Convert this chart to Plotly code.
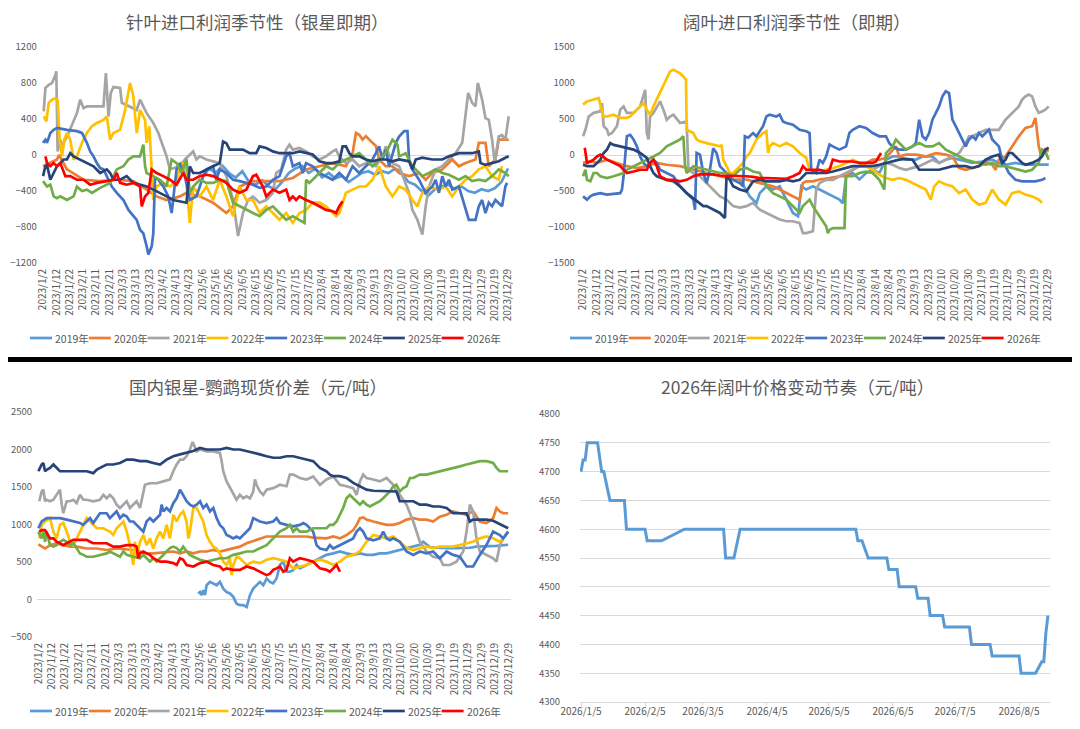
import plotly.graph_objects as go

# The page body has an 8px margin, so the figure is drawn 8px in from the window corner.
OFF = 8
W, H = 1080 - 2 * OFF, 729 - 2 * OFF
FONT = "Noto Sans CJK SC, Noto Sans, sans-serif"
TXT = "#595959"

YEARS = ["2019年", "2020年", "2021年", "2022年", "2023年", "2024年", "2025年", "2026年"]
COLORS = ["#5B9BD5", "#ED7D31", "#A5A5A5", "#FFC000", "#4472C4", "#70AD47", "#264478", "#FF0000"]

X_TICK_LABELS = ["2023/1/2", "2023/1/12", "2023/1/22", "2023/2/1", "2023/2/11", "2023/2/21",
                 "2023/3/3", "2023/3/13", "2023/3/23", "2023/4/2", "2023/4/13", "2023/4/23",
                 "2023/5/6", "2023/5/16", "2023/5/26", "2023/6/5", "2023/6/15", "2023/6/25",
                 "2023/7/5", "2023/7/15", "2023/7/25", "2023/8/4", "2023/8/14", "2023/8/24",
                 "2023/9/3", "2023/9/13", "2023/9/23", "2023/10/10", "2023/10/20", "2023/10/30",
                 "2023/11/9", "2023/11/19", "2023/11/29", "2023/12/9", "2023/12/19", "2023/12/29"]

# ---------------- Panel 1: 针叶进口利润季节性（银星即期）  (x = position in tick-label units)
P1_2019 = [(12.0,-250),(12.5,-150),(13.0,-200),(13.5,-120),(14.0,-200),(14.5,-250),(15.0,-180),(15.5,-300),
           (16.0,-330),(16.5,-280),(17.0,-350),(17.5,-380),(18.0,-300),(18.5,-200),(19.0,-150),(19.5,-120),
           (20.0,-200),(20.5,-150),(21.0,-250),(21.5,-200),(22.0,-260),(22.5,-230),(23.0,-300),(23.5,-250),
           (24.0,-200),(24.5,-180),(25.0,-220),(25.5,-180),(26.0,-200),(26.5,-150),(27.0,-200),(27.5,-300),
           (28.0,-330),(28.5,-400),(29.0,-450),(29.5,-380),(30.0,-350),(30.5,-330),(31.0,-380),(31.5,-350),
           (32.0,-400),(32.5,-420),(33.0,-380),(33.5,-400),(34.0,-370),(34.5,-300),(35.0,-150)]
P1_2020 = [(0,-125),(1.05,-50),(1.2,0),(1.8,-160),(3.05,-275),(4.3,-290),(5.55,-275),(6.8,-290),(7.8,-385),
           (8.55,-460),(9.3,-500),(10.3,-460),(10.8,-420),(11.8,-460),(12.8,-530),(13.8,-645),(14.3,-570),
           (14.8,-350),(15.8,-290),(16.8,-290),(17.8,-290),(18.8,-255),(19.8,-160),(20.8,-125),(21.8,-90),
           (22.8,-125),(23.3,20),(23.55,245),(23.8,225),(24.05,170),(24.3,210),(24.8,135),(25.05,100),
           (25.3,-50),(25.8,-125),(26.3,-125),(26.8,-200),(27.55,-235),(28.3,-200),(28.8,-275),(29.3,-200),
           (30.05,-160),(30.8,-50),(31.3,-125),(31.8,-90),(32.55,-50),(32.8,135),(33.3,135),(33.55,-125),
           (34.05,-50),(34.3,170),(35.05,170)]
P1_2021 = [(0.05,485),(0.18,745),(0.43,780),(0.68,800),(0.93,890),(1.0,930),(1.1,40),(1.3,170),(1.4,100),
           (1.8,200),(2.55,465),(2.8,615),(3.05,520),(3.3,540),(4.55,540),(4.73,910),(4.93,430),(5.1,690),
           (5.3,755),(5.8,745),(5.93,580),(6.55,540),(7.05,500),(7.3,615),(7.8,465),(8.3,355),(8.68,245),
           (9.3,-15),(9.55,-160),(10.3,-125),(10.68,-50),(11.3,40),(11.55,-50),(11.8,-15),(12.3,-50),
           (13.3,-90),(13.8,-235),(14.3,-500),(14.68,-900),(15.05,-645),(15.43,-500),(15.8,-460),(16.3,-530),
           (16.8,-500),(17.3,-420),(17.55,-200),(17.93,-160),(18.3,60),(18.55,115),(18.8,60),(19.3,78),
           (19.8,40),(20.3,-15),(20.8,-50),(21.3,-15),(21.8,40),(22.05,60),(22.3,-15),(22.8,-90),(23.3,-50),
           (23.8,-125),(24.3,-90),(25.05,-125),(25.55,-15),(25.8,96),(26.3,-90),(26.8,-125),(27.55,-420),
           (27.8,-610),(28.18,-720),(28.55,-885),(28.8,-570),(29.05,-350),(29.55,-160),(30.05,-125),
           (30.55,-50),(31.05,20),(31.55,135),(31.8,430),(32.0,690),(32.3,580),(32.55,540),(32.73,800),
           (33.05,615),(33.3,410),(33.55,390),(33.8,170),(34.0,-90),(34.3,205),(34.55,220),(34.8,170),(35.05,430)]
P1_2022 = [(0.05,430),(0.25,375),(0.43,580),(0.68,615),(0.93,630),(1.1,610),(1.25,170),(1.43,-15),(1.6,170),
           (1.8,245),(2.05,170),(2.3,-50),(2.55,-15),(2.93,135),(3.3,245),(3.68,320),(4.05,355),(4.55,390),
           (4.8,430),(5.05,170),(5.3,245),(5.8,280),(6.18,500),(6.55,800),(6.8,650),(7.05,245),(7.3,500),
           (7.68,390),(7.8,135),(8.0,320),(8.3,-500),(8.55,-350),(9.05,-310),(9.55,-350),(10.05,-290),
           (10.43,-90),(10.68,-125),(11.05,-755),(11.3,-350),(11.8,-460),(12.3,-350),(12.8,-500),(13.3,-275),
           (13.8,-460),(14.3,-680),(14.8,-350),(15.3,-500),(15.8,-500),(16.3,-645),(16.8,-570),(17.3,-645),
           (17.8,-720),(18.3,-645),(18.8,-755),(19.3,-645),(19.8,-610),(20.3,-530),(20.8,-530),(21.3,-570),
           (21.8,-645),(22.05,-680),(22.3,-645),(22.8,-420),(23.3,-385),(23.8,-350),(24.3,-350),(24.8,-275),
           (25.3,-125),(25.8,-350),(26.3,-460),(26.8,-350),(27.3,-385),(27.8,-500),(28.18,-570),(28.55,-420),
           (29.05,-350),(29.8,-385),(30.3,-350),(30.8,-460),(31.3,-350),(31.8,-275),(32.3,-235),(32.8,-160),
           (33.3,-125),(33.8,-235),(34.3,-275),(34.55,-125)]
P1_2023 = [(0,135),(0.18,170),(0.3,135),(0.55,245),(0.8,280),(1.05,300),(1.8,280),(2.55,265),(2.93,245),
           (3.3,135),(3.55,40),(3.8,-15),(4.05,-90),(4.3,-145),(4.55,-160),(4.8,-235),(5.18,-350),(5.55,-420),
           (6.05,-500),(6.43,-610),(6.8,-680),(7.05,-720),(7.3,-830),(7.55,-870),(7.8,-1015),(7.93,-1105),
           (8.18,-1015),(8.3,-870),(8.43,-250),(8.68,-275),(9.05,-350),(9.43,-460),(9.68,-645),(9.8,-500),
           (10.05,-160),(10.3,-90),(10.68,-235),(11.05,-500),(11.55,-460),(11.8,-350),(12.05,-235),(12.3,-160),
           (12.8,-125),(13.05,-275),(13.3,-160),(13.8,-200),(14.3,-275),(14.8,-290),(15.3,-310),(15.8,-330),
           (16.3,-365),(16.8,-350),(17.3,-275),(17.8,-235),(18.05,-125),(18.3,-15),(18.55,20),(18.8,-125),
           (19.3,-90),(19.55,-200),(19.8,-90),(20.3,-125),(20.8,-200),(21.3,-235),(21.8,-275),(22.3,-200),
           (22.8,-275),(23.3,-125),(23.8,-200),(24.3,-125),(24.8,-50),(25.05,20),(25.3,96),(25.55,-50),
           (25.8,60),(26.05,-125),(26.3,20),(26.55,135),(26.8,205),(27.18,265),(27.43,265),(27.55,-50),
           (27.8,-160),(28.3,-275),(28.8,-420),(29.3,-350),(29.55,-275),(29.8,-420),(30.05,-235),(30.3,-350),
           (30.55,-275),(30.8,-385),(31.3,-350),(31.8,-610),(32.05,-720),(32.55,-720),(32.8,-570),(33.05,-500),
           (33.3,-645),(33.55,-530),(33.8,-570),(34.05,-500),(34.3,-530),(34.55,-570),(34.8,-350),(34.93,-310)]
P1_2024 = [(0,-290),(0.3,-350),(0.55,-330),(0.8,-460),(1.05,-480),(1.3,-460),(1.8,-500),(2.3,-460),(2.55,-350),
           (2.93,-400),(3.3,-385),(3.68,-420),(4.3,-365),(5.05,-310),(5.55,-160),(6.05,-125),(6.43,-50),
           (6.8,-15),(7.3,-15),(7.55,115),(7.68,-125),(7.8,-200),(8.3,-235),(8.8,-275),(9.3,-350),(9.68,-50),
           (10.05,-90),(10.43,-200),(10.8,-50),(11.05,-420),(11.3,-350),(11.8,-275),(12.3,-310),(12.8,-310),
           (13.3,-275),(13.8,-290),(14.3,-530),(14.8,-570),(15.3,-610),(15.8,-645),(16.3,-680),(16.8,-610),
           (17.3,-570),(17.8,-645),(18.3,-720),(18.8,-680),(19.3,-720),(19.68,-755),(19.8,-275),(20.05,-310),
           (20.8,-200),(21.3,-125),(21.8,-160),(22.3,-90),(22.8,-50),(23.3,-15),(23.8,20),(24.3,-50),
           (24.8,-125),(25.3,-50),(25.8,20),(26.3,170),(26.68,115),(26.8,-15),(27.3,20),(27.55,-50),
           (27.8,-125),(28.05,-160),(28.55,-235),(29.05,-200),(29.55,-160),(30.05,-200),(30.55,-220),
           (31.3,-275),(31.8,-235),(32.3,-290),(32.8,-275),(33.3,-290),(33.8,-235),(34.3,-160),(34.8,-200),
           (35.05,-235)]
P1_2025 = [(0,-235),(0.18,-125),(0.3,-110),(0.55,-275),(0.8,-200),(1.05,-125),(1.3,-90),(1.55,-50),(1.8,-50),
           (2.05,20),(2.3,-15),(2.8,-50),(3.3,-90),(3.8,-125),(4.3,-200),(4.8,-160),(5.05,-200),(5.3,-275),
           (5.8,-275),(6.3,-235),(6.8,-310),(7.3,-330),(7.8,-350),(8.3,-385),(8.8,-420),(9.3,-460),(9.8,-500),
           (10.3,-515),(10.8,-530),(11.05,-125),(11.3,-200),(11.8,-200),(12.3,-160),(12.8,-125),(13.3,-90),
           (13.55,150),(13.8,130),(14.05,60),(14.55,60),(15.05,60),(15.55,20),(16.05,20),(16.3,96),(16.8,78),
           (17.3,40),(17.8,20),(18.3,20),(18.8,20),(19.3,40),(19.8,20),(20.3,5),(20.8,-70),(21.3,-90),
           (21.8,-90),(22.3,-70),(22.55,96),(22.8,96),(23.05,20),(23.3,-15),(23.8,-15),(24.3,-50),(24.8,-70),
           (25.3,-50),(25.8,-50),(26.3,-70),(26.8,-50),(27.55,-70),(27.8,-160),(28.05,-50),(28.55,-30),
           (29.3,-50),(30.05,-50),(30.55,-15),(31.3,20),(31.8,20),(32.3,20),(32.8,40),(32.93,-90),(33.3,-110),
           (33.8,-90),(34.3,-70),(34.8,-30),(35.05,-15)]
P1_2026 = [(0.18,-15),(0.3,-90),(0.55,-125),(0.8,-90),(1.05,-125),(1.3,-90),(1.68,-235),(2.05,-235),(2.55,-275),
           (3.05,-275),(3.55,-330),(4.05,-310),(4.8,-290),(5.3,-275),(5.55,-200),(5.8,-310),(6.3,-330),
           (6.8,-310),(7.3,-350),(7.43,-570),(7.68,-460),(7.93,-420),(8.18,-160),(8.55,-200),(9.05,-235),
           (9.55,-275),(10.05,-330),(10.55,-200),(10.8,-275),(11.3,-275),(11.8,-235),(12.3,-220),(12.8,-235),
           (13.3,-275),(13.8,-310),(14.3,-385),(14.8,-420),(15.3,-385),(15.8,-235),(16.05,-220),(16.3,-290),
           (16.55,-350),(16.8,-460),(17.3,-385),(17.8,-420),(18.3,-385),(18.55,-500),(18.8,-460),(19.05,-500),
           (19.3,-460),(19.8,-500),(20.3,-530),(20.8,-570),(21.3,-610),(21.8,-625),(22.05,-645),(22.3,-570),
           (22.55,-515)]

# ---------------- Panel 2: 阔叶进口利润季节性（即期）
P2_2019 = [(11.8,-340),(12.55,-575),(13.05,-670),(13.3,-530),(13.8,-435),(14.3,-480),(14.8,-435),(15.3,-620),
           (15.8,-805),(16.18,-850),(16.43,-435),(16.8,-480),(17.3,-435),(17.8,-480),(18.3,-530),(18.8,-575),
           (19.3,-620),(19.55,-670),(19.8,-300),(20.3,-250),(20.8,-340),(21.3,-250),(21.8,-205),(22.3,-250),
           (22.8,-65),(23.3,-20),(23.8,-20),(24.3,-65),(25.05,-65),(25.55,-20),(26.3,-20),(26.8,-110),
           (27.3,-65),(27.8,-40),(28.3,-65),(28.8,-90),(29.3,-110),(30.05,-90),(30.8,-65),(31.3,-110),
           (31.8,-135),(32.55,-110),(33.3,-135),(34.05,-135),(35.05,-135)]
P2_2020 = [(0,-110),(0.55,-90),(1.05,-110),(1.8,-65),(2.55,-110),(3.3,-155),(4.05,-180),(4.8,-155),(5.55,-110),
           (6.3,-135),(7.3,-155),(8.3,-205),(9.3,-250),(10.3,-295),(11.3,-340),(12.3,-340),(13.3,-390),
           (14.3,-435),(14.8,-480),(15.3,-530),(15.8,-575),(16.3,-620),(16.55,-390),(16.8,-365),(17.3,-365),
           (17.8,-340),(18.55,-320),(19.3,-295),(19.8,-295),(20.3,-205),(20.8,-155),(21.3,-110),(21.8,-65),
           (22.3,-65),(22.8,-40),(23.55,120),(23.8,-20),(24.3,5),(25.05,5),(25.8,-20),(26.55,25),(27.3,5),
           (27.8,-20),(28.3,-180),(28.8,-205),(29.3,-180),(29.8,-155),(30.3,-110),(30.8,-135),(31.05,-205),
           (31.3,-65),(31.8,-20),(32.3,120),(32.8,260),(33.3,375),(33.8,400),(34.05,515),(34.3,120),(34.43,25),
           (34.8,75),(35.05,50)]
P2_2021 = [(0,260),(0.18,350),(0.43,535),(0.8,585),(1.3,605),(1.43,720),(1.55,400),(1.8,355),(1.93,280),
           (2.18,305),(2.55,400),(2.8,630),(3.05,675),(3.3,585),(3.8,585),(4.3,675),(4.68,905),(4.8,305),
           (4.93,215),(5.05,535),(5.3,585),(5.55,675),(5.8,745),(6.05,630),(6.3,490),(6.55,535),(6.8,560),
           (7.3,445),(7.8,465),(7.93,-205),(8.3,-250),(8.8,-295),(9.3,-390),(9.8,-480),(10.3,-575),(10.8,-620),
           (11.3,-710),(11.8,-730),(12.3,-710),(12.8,-665),(13.3,-760),(13.8,-805),(14.3,-850),(14.8,-895),
           (15.3,-920),(15.8,-920),(16.3,-945),(16.55,-1085),(16.8,-1085),(17.3,-1060),(17.55,-480),(17.8,-390),
           (18.3,-345),(18.8,-345),(19.3,-295),(19.8,-250),(20.3,-205),(20.8,-155),(21.3,-155),(21.8,-205),
           (22.3,-155),(22.8,-110),(23.3,-135),(23.8,-180),(24.3,-205),(24.8,-180),(25.3,-155),(25.8,-110),
           (26.3,-65),(26.8,-110),(27.3,-65),(27.8,-20),(28.3,25),(28.8,165),(29.05,260),(29.3,260),(29.8,305),
           (30.3,350),(30.8,350),(31.3,350),(31.8,490),(32.05,535),(32.3,585),(32.8,675),(33.05,770),(33.3,815),
           (33.55,840),(33.8,815),(34.05,675),(34.3,585),(34.55,605),(34.8,630),(35.05,675)]
P2_2022 = [(0,700),(0.3,745),(0.8,770),(1.18,790),(1.3,700),(1.55,535),(1.8,535),(2.3,560),(2.8,515),(3.3,515),
           (3.55,535),(4.05,630),(4.3,675),(4.55,720),(4.8,630),(5.05,560),(5.3,675),(5.55,770),(5.8,860),
           (6.05,955),(6.3,1045),(6.55,1160),(6.8,1185),(7.05,1160),(7.3,1135),(7.55,1090),(7.75,1045),(7.8,350),
           (8.05,330),(8.3,305),(8.55,215),(8.8,190),(9.3,165),(9.8,140),(10.3,120),(10.43,140),(10.55,-65),
           (10.8,-155),(11.05,-250),(11.3,-250),(11.55,-205),(11.8,-155),(12.05,-110),(12.3,-20),(12.55,25),
           (12.8,120),(13.05,215),(13.3,260),(13.55,305),(13.8,330),(13.93,28),(14.05,120),(14.3,165),(14.8,120),
           (15.3,165),(15.8,120),(16.3,28),(16.8,-40),(17.05,-205),(17.3,-250),(17.8,-230),(18.3,-205),(18.8,-180),
           (19.3,-155),(19.8,-110),(20.3,-65),(20.8,-110),(21.3,-155),(21.8,-205),(22.3,-275),(22.8,-320),
           (23.3,-345),(23.8,-320),(24.3,-345),(24.8,-390),(25.3,-435),(25.8,-480),(26.18,-620),(26.43,-435),
           (26.8,-365),(27.3,-410),(27.8,-435),(28.3,-530),(28.8,-480),(29.3,-620),(29.8,-690),(30.3,-665),
           (30.8,-480),(31.3,-620),(31.8,-690),(32.3,-530),(32.8,-505),(33.3,-550),(33.8,-575),(34.3,-620),
           (34.55,-665)]
P2_2023 = [(0,-575),(0.18,-600),(0.3,-620),(0.55,-575),(0.8,-550),(1.3,-530),(1.8,-550),(2.8,-530),(2.93,-480),
           (3.05,-295),(3.3,260),(3.55,280),(3.8,215),(4.05,120),(4.3,-20),(4.55,-110),(4.8,-155),(5.3,-65),
           (5.55,-110),(5.8,-205),(6.3,-250),(6.8,-295),(7.3,-435),(7.8,-530),(8.3,-620),(8.43,-760),(8.55,28),
           (8.8,5),(9.05,-250),(9.3,-390),(9.55,-205),(9.8,95),(10.05,28),(10.3,-155),(10.55,-205),(10.8,-250),
           (11.3,-345),(11.8,-390),(12.05,-435),(12.18,260),(12.43,240),(12.8,305),(13.05,260),(13.3,330),
           (13.55,400),(13.8,535),(14.05,560),(14.55,535),(14.8,560),(15.05,465),(15.3,445),(15.8,420),(16.3,350),
           (16.8,330),(17.05,305),(17.18,-205),(17.55,-250),(17.8,-65),(18.05,-110),(18.3,-20),(18.55,145),
           (18.8,120),(19.3,75),(19.8,120),(20.05,305),(20.3,350),(20.8,400),(21.3,375),(21.8,305),(22.3,260),
           (22.8,260),(23.05,165),(23.3,120),(23.8,75),(24.3,75),(24.8,120),(25.05,165),(25.3,490),(25.55,260),
           (25.8,215),(26.05,305),(26.3,490),(26.55,585),(26.8,675),(27.05,815),(27.3,885),(27.55,860),
           (27.8,490),(28.05,400),(28.3,305),(28.55,215),(28.8,120),(29.05,215),(29.3,260),(29.55,215),
           (29.8,305),(30.05,260),(30.3,305),(30.55,350),(30.8,215),(31.05,165),(31.3,120),(31.55,-65),
           (31.8,-155),(32.05,-250),(32.55,-345),(33.05,-365),(33.55,-365),(34.05,-365),(34.55,-345),(34.8,-320)]
P2_2024 = [(0,-295),(0.18,-205),(0.3,-345),(0.55,-365),(0.8,-250),(1.05,-250),(1.3,-295),(1.8,-320),(2.3,-295),
           (2.8,-270),(3.05,-250),(3.3,-205),(3.8,-155),(4.3,-110),(4.8,-65),(5.3,-20),(5.8,28),(6.3,120),
           (6.8,165),(7.3,215),(7.55,260),(7.68,-155),(7.8,-250),(8.05,-205),(8.3,-155),(8.8,-180),(9.3,-205),
           (9.8,-230),(10.3,-250),(10.8,-250),(11.3,-295),(11.8,-205),(12.3,-180),(12.8,-230),(13.3,-250),
           (13.55,-345),(13.8,-435),(14.3,-530),(14.8,-575),(15.3,-620),(15.8,-710),(16.3,-805),(16.55,-710),
           (16.8,-665),(17.05,-620),(17.3,-710),(17.8,-850),(18.3,-990),(18.43,-1085),(18.55,-1040),
           (18.8,-1015),(19.3,-1015),(19.68,-1015),(19.8,-295),(20.3,-295),(20.8,-250),(21.3,-230),(21.8,-250),
           (22.3,-345),(22.68,-480),(22.8,28),(23.05,75),(23.3,120),(23.55,215),(23.8,165),(24.05,120),
           (24.3,75),(24.8,120),(25.3,165),(25.8,120),(26.3,120),(26.8,165),(27.3,75),(27.8,28),(28.3,-20),
           (28.8,-65),(29.3,-90),(29.8,-110),(30.3,-135),(30.8,-110),(31.3,-155),(31.8,-155),(32.3,-180),
           (32.8,-205),(33.3,-230),(33.8,-205),(34.3,-110),(34.55,75),(34.8,50),(35.05,-65)]
P2_2025 = [(0,-135),(0.3,-155),(0.8,-155),(1.3,-65),(1.55,28),(1.8,75),(2.05,165),(2.3,140),(2.8,120),
           (3.3,95),(3.8,75),(4.3,28),(4.8,-40),(5.05,-155),(5.3,-250),(5.55,-295),(6.3,-345),(6.8,-365),
           (7.3,-435),(7.8,-530),(8.3,-600),(8.8,-665),(9.05,-710),(9.3,-710),(9.8,-760),(10.3,-805),
           (10.68,-875),(10.8,-295),(11.05,-345),(11.3,-435),(11.8,-480),(12.3,-505),(12.8,-365),(13.3,-345),
           (13.8,-365),(14.3,-365),(14.8,-365),(15.3,-345),(15.8,-365),(16.3,-345),(16.8,-250),(17.3,-250),
           (17.8,-250),(18.3,-250),(18.8,-230),(19.3,-205),(19.8,-180),(20.3,-155),(20.8,-155),(21.3,-155),
           (21.8,-155),(22.3,-135),(22.8,-110),(23.3,-90),(23.8,-65),(24.3,-55),(24.8,-65),(25.3,-205),
           (25.8,-205),(26.3,-205),(26.8,-205),(27.3,-180),(27.8,-155),(28.3,-155),(28.8,-155),(29.3,-180),
           (29.8,-155),(30.3,-65),(30.8,-20),(31.3,5),(31.55,-110),(31.8,-65),(32.05,28),(32.3,28),(32.8,-65),
           (33.05,-110),(33.3,-135),(33.8,-110),(34.3,-65),(34.55,-20),(34.8,75),(35.05,100)]
P2_2026 = [(0.13,100),(0.3,-110),(0.55,-90),(0.8,-65),(1.05,-20),(1.3,5),(1.8,-65),(2.3,-110),(2.8,-155),
           (3.05,-205),(3.3,-250),(3.8,-230),(4.3,-205),(4.8,-205),(5.05,-110),(5.3,-65),(5.55,-155),
           (5.8,-295),(6.3,-345),(6.8,-345),(7.3,-365),(7.8,-345),(8.3,-295),(8.8,-270),(9.3,-270),(9.8,-270),
           (10.3,-285),(10.8,-285),(11.3,-295),(11.8,-285),(12.3,-295),(12.8,-305),(13.3,-320),(13.8,-320),
           (14.3,-320),(14.8,-320),(15.3,-330),(15.8,-295),(16.3,-250),(16.55,-155),(16.8,-205),(17.3,-205),
           (17.8,-205),(18.3,-230),(18.55,-205),(18.8,-65),(19.3,-90),(19.8,-90),(20.3,-90),(20.8,-110),
           (21.3,-110),(21.8,-110),(22.05,-90),(22.3,-20),(22.43,28)]

# ---------------- Panel 3: 国内银星-鹦鹉现货价差（元/吨）
P3_2019 = [(11.9,80),(12.04,100),(12.16,58),(12.28,125),(12.41,58),(12.53,190),(12.78,235),(13.03,215),
           (13.28,190),(13.52,235),(13.77,145),(14.02,100),(14.27,80),(14.52,35),(14.76,-55),(15.01,-75),
           (15.26,-75),(15.51,-100),(15.63,-30),(15.76,58),(16.0,145),(16.25,190),(16.5,235),(16.75,190),
           (17.0,280),(17.25,235),(17.49,215),(17.74,280),(17.99,460),(18.24,505),(18.48,370),(18.73,370),
           (18.98,390),(19.23,460),(19.48,415),(19.97,460),(20.47,505),(20.97,550),(21.46,595),(21.96,615),
           (22.46,640),(22.95,615),(23.45,595),(23.95,615),(24.44,595),(24.94,595),(25.43,615),(25.93,615),
           (26.43,640),(26.92,660),(27.42,685),(27.92,705),(28.41,730),(28.66,770),(29.16,700),(29.65,690),
           (30.15,685),(30.65,685),(31.14,685),(31.64,685),(32.14,690),(32.63,705),(33.13,705),(33.62,710),
           (34.12,715),(34.99,730)]
P3_2020 = [(0,735),(0.25,705),(0.5,680),(0.87,725),(1.36,750),(1.86,725),(2.36,705),(2.85,705),(3.6,680),
           (4.34,680),(5.09,660),(5.83,680),(6.58,670),(7.07,660),(7.57,640),(8.07,615),(8.56,615),(9.06,625),
           (9.55,640),(10.05,640),(10.55,615),(11.04,640),(11.54,615),(12.03,640),(12.53,640),(13.03,660),
           (13.52,640),(14.02,660),(14.52,680),(15.01,705),(15.51,750),(16.0,780),(16.5,805),(16.99,840),
           (17.49,840),(17.99,840),(18.48,840),(18.98,840),(19.48,850),(19.97,840),(20.47,825),(20.97,815),
           (21.46,815),(21.96,840),(22.46,815),(22.95,860),(23.45,925),(23.7,995),(23.95,1085),(24.19,1095),
           (24.44,1065),(24.94,1040),(25.43,1020),(25.93,995),(26.43,995),(26.92,1020),(27.42,1065),
           (27.92,1085),(28.41,1065),(28.91,1065),(29.4,1040),(29.9,1105),(30.4,1130),(30.89,1175),
           (31.39,1150),(31.89,1130),(32.38,1175),(32.88,1040),(33.37,1020),(33.87,1085),(34.12,1220),
           (34.37,1175),(34.62,1150),(34.99,1150)]
P3_2021 = [(0.07,1310),(0.25,1440),(0.37,1465),(0.5,1310),(0.62,1330),(0.87,1310),(1.12,1330),(1.36,1395),
           (1.61,1465),(1.74,1265),(1.86,1150),(2.11,1310),(2.36,1310),(2.61,1330),(2.85,1285),(3.1,1395),
           (3.35,1330),(3.6,1330),(4.09,1310),(4.59,1330),(4.84,1395),(5.09,1350),(5.33,1395),(5.58,1350),
           (5.83,1265),(6.08,1220),(6.33,1265),(6.58,1310),(6.82,1220),(7.07,1265),(7.32,1310),(7.57,1220),
           (7.82,1440),(7.94,1530),(8.31,1550),(8.81,1550),(9.31,1575),(9.8,1600),(10.05,1710),(10.3,1800),
           (10.55,1865),(10.79,1865),(11.04,1910),(11.29,2000),(11.49,2100),(11.66,2030),(11.79,1975),
           (12.04,2000),(12.53,1975),(13.03,1975),(13.52,1955),(13.65,1845),(13.77,1710),(14.02,1575),
           (14.27,1485),(14.52,1395),(14.76,1330),(15.01,1395),(15.26,1350),(15.51,1375),(15.76,1350),
           (16.0,1440),(16.13,1600),(16.25,1530),(16.5,1440),(16.75,1395),(17.0,1465),(17.49,1485),(17.99,1530),
           (18.48,1510),(18.73,1665),(18.98,1665),(19.48,1620),(19.97,1600),(20.47,1640),(20.97,1530),
           (21.46,1600),(21.96,1640),(22.46,1530),(22.95,1510),(23.45,1485),(23.7,1395),(23.95,1575),
           (24.19,1665),(24.44,1620),(24.94,1600),(25.43,1575),(25.93,1620),(26.43,1530),(26.67,1440),
           (26.92,1395),(27.42,1265),(27.92,1040),(28.41,770),(28.91,640),(29.4,570),(29.9,550),(30.15,460),
           (30.65,460),(31.14,505),(31.64,640),(31.89,905),(32.14,1265),(32.38,1175),(32.63,815),(32.88,640),
           (33.37,595),(33.87,550),(34.12,505),(34.37,725),(34.62,815),(34.99,905)]
P3_2022 = [(0.07,815),(0.25,995),(0.5,1040),(0.87,1085),(1.12,905),(1.36,815),(1.61,995),(1.86,1020),
           (2.11,905),(2.36,770),(2.61,725),(2.85,815),(3.1,905),(3.35,995),(3.6,1085),(3.85,1040),(4.09,995),
           (4.34,950),(4.59,950),(4.84,950),(5.09,925),(5.33,905),(5.58,860),(5.83,950),(6.08,995),(6.33,1040),
           (6.58,905),(6.82,725),(7.07,460),(7.2,770),(7.32,550),(7.57,770),(7.82,860),(8.06,725),(8.31,815),
           (8.56,680),(8.81,815),(9.06,905),(9.31,815),(9.55,995),(9.8,815),(10.05,1130),(10.3,1040),
           (10.55,1130),(10.79,1175),(11.04,1040),(11.17,815),(11.29,905),(11.54,1220),(11.79,1220),
           (12.04,1130),(12.28,1040),(12.53,860),(12.78,770),(13.03,705),(13.28,680),(13.52,615),(13.77,505),
           (14.02,460),(14.27,550),(14.39,325),(14.52,460),(14.76,570),(15.01,550),(15.26,505),(15.51,460),
           (16.0,505),(16.5,485),(17.0,530),(17.49,550),(17.99,530),(18.48,505),(18.98,415),(19.48,440),
           (19.97,460),(20.47,505),(20.97,530),(21.46,505),(21.96,460),(22.46,505),(22.95,570),(23.45,595),
           (23.95,640),(24.44,770),(24.94,860),(25.43,840),(25.93,815),(26.43,840),(26.92,770),(27.42,685),
           (27.92,660),(28.41,685),(28.91,705),(29.4,685),(29.9,705),(30.4,705),(30.89,705),(31.39,725),
           (31.89,750),(32.38,770),(32.88,815),(33.37,840),(33.87,815),(34.37,770),(34.62,815)]
P3_2023 = [(0,950),(0.25,1040),(0.62,1085),(1.12,1085),(1.61,1085),(2.11,1065),(2.61,1040),(3.1,1020),
           (3.35,995),(3.6,1040),(3.85,1085),(4.09,1020),(4.34,1085),(4.59,1150),(5.09,1150),(5.33,1085),
           (5.58,1130),(5.83,1175),(6.08,1085),(6.33,1130),(6.58,1105),(6.82,1040),(7.07,1040),(7.32,995),
           (7.57,950),(7.82,905),(8.06,1040),(8.31,1085),(8.56,1040),(8.81,1085),(9.06,1130),(9.18,1265),
           (9.31,1175),(9.55,1220),(9.8,1175),(10.05,1285),(10.3,1350),(10.55,1465),(10.79,1395),(11.04,1310),
           (11.29,1265),(11.54,1240),(11.79,1265),(12.04,1310),(12.28,1220),(12.53,1265),(12.78,1175),
           (13.03,1220),(13.28,1085),(13.52,995),(13.77,950),(14.02,860),(14.27,840),(14.52,815),(14.76,840),
           (15.01,815),(15.26,860),(15.51,905),(15.76,950),(16.0,1085),(16.25,1065),(16.5,1040),(17.0,1020),
           (17.49,1040),(17.74,1085),(17.99,1020),(18.48,995),(18.98,975),(19.48,995),(19.73,1020),(19.97,995),
           (20.47,905),(20.72,725),(20.97,680),(21.46,660),(21.71,725),(21.96,680),(22.46,725),(22.95,770),
           (23.45,815),(23.7,905),(23.95,950),(24.19,905),(24.44,815),(24.94,790),(25.43,815),(25.68,905),
           (25.93,815),(26.18,790),(26.43,815),(26.92,770),(27.42,640),(27.92,595),(28.41,640),(28.91,615),
           (29.4,640),(29.9,550),(30.4,640),(30.89,595),(31.39,570),(31.89,440),(32.38,440),(32.88,595),
           (33.37,725),(33.87,905),(34.37,860),(34.62,815),(34.99,905)]
P3_2024 = [(0,905),(0.25,815),(0.37,905),(0.5,770),(0.62,905),(0.87,725),(1.12,705),(1.36,725),(1.61,770),
           (1.86,795),(2.11,770),(2.36,725),(2.61,750),(2.85,685),(3.1,615),(3.35,595),(3.6,570),(4.09,570),
           (4.59,595),(5.09,615),(5.33,640),(5.58,615),(6.08,570),(6.33,640),(6.58,595),(7.07,570),(7.57,550),
           (7.82,595),(8.06,550),(8.31,505),(8.56,550),(8.81,505),(9.06,550),(9.31,595),(9.55,640),(9.8,685),
           (10.05,705),(10.3,685),(10.55,640),(10.79,705),(11.04,640),(11.29,595),(11.54,570),(11.79,550),
           (12.04,530),(12.53,505),(13.03,530),(13.52,550),(14.02,550),(14.52,595),(15.01,615),(15.51,640),
           (16.0,640),(16.5,685),(17.0,725),(17.49,815),(17.74,860),(17.99,905),(18.48,950),(18.73,995),
           (18.98,905),(19.23,950),(19.48,905),(19.97,905),(20.47,950),(20.97,950),(21.46,950),(21.71,995),
           (21.96,995),(22.21,1040),(22.46,1130),(22.7,1220),(22.95,1350),(23.2,1395),(23.45,1350),(23.7,1310),
           (23.95,1265),(24.19,1310),(24.44,1265),(24.69,1240),(24.94,1265),(25.43,1310),(25.68,1350),
           (25.93,1395),(26.18,1440),(26.43,1510),(26.67,1530),(26.92,1440),(27.17,1485),(27.42,1510),
           (27.67,1620),(27.92,1620),(28.41,1665),(28.91,1665),(29.4,1685),(29.9,1710),(30.4,1730),(30.89,1755),
           (31.39,1775),(31.89,1800),(32.38,1820),(32.88,1845),(33.37,1845),(33.87,1820),(34.12,1755),
           (34.37,1710),(34.62,1710),(34.99,1710)]
P3_2025 = [(0,1710),(0.25,1800),(0.37,1820),(0.5,1710),(0.62,1730),(0.87,1755),(1.12,1800),(1.36,1755),
           (1.61,1710),(2.11,1710),(2.61,1710),(3.1,1710),(3.6,1710),(4.09,1685),(4.34,1730),(4.59,1755),
           (4.84,1775),(5.09,1800),(5.58,1800),(6.08,1820),(6.58,1865),(7.07,1865),(7.57,1845),(8.06,1845),
           (8.56,1820),(9.06,1800),(9.55,1865),(10.05,1910),(10.55,1935),(11.04,1955),(11.54,1980),(12.04,2020),
           (12.53,2000),(13.03,2000),(13.52,2000),(14.02,2020),(14.52,2000),(15.01,2000),(15.51,1980),
           (16.0,1955),(16.5,1935),(17.0,1910),(17.49,1890),(17.99,1890),(18.48,1910),(18.98,1910),(19.48,1890),
           (19.97,1865),(20.47,1845),(20.97,1755),(21.46,1710),(21.71,1665),(21.96,1645),(22.46,1645),
           (22.95,1620),(23.45,1555),(23.95,1510),(24.44,1465),(24.94,1450),(25.43,1450),(25.93,1450),
           (26.43,1450),(26.67,1440),(26.92,1310),(27.42,1310),(27.92,1310),(28.41,1265),(28.91,1265),
           (29.4,1240),(29.9,1240),(30.4,1220),(30.89,1150),(31.39,1150),(31.89,1150),(32.14,1040),(32.38,1065),
           (32.88,1065),(33.37,1065),(33.87,1050),(34.37,1005),(34.62,975),(34.99,950)]
P3_2026 = [(0.07,905),(0.25,925),(0.5,925),(0.62,885),(0.87,815),(1.12,815),(1.36,770),(1.61,750),(1.86,725),
           (2.11,750),(2.36,770),(2.61,795),(3.1,795),(3.6,795),(3.85,770),(4.09,750),(4.59,750),(5.09,750),
           (5.58,705),(6.08,705),(6.58,725),(7.07,725),(7.32,705),(7.44,550),(7.57,615),(7.82,640),(8.06,615),
           (8.31,595),(8.56,550),(8.81,530),(9.06,505),(9.55,505),(10.05,485),(10.3,460),(10.55,550),(10.79,530),
           (11.04,460),(11.54,440),(12.04,485),(12.53,505),(13.03,460),(13.52,440),(13.77,395),(14.02,415),
           (14.52,395),(15.01,395),(15.51,440),(16.0,415),(16.5,370),(16.75,345),(17.0,325),(17.25,345),
           (17.49,395),(17.74,415),(17.99,440),(18.24,370),(18.48,395),(18.73,550),(18.98,505),(19.23,530),
           (19.48,550),(19.97,530),(20.47,505),(20.72,460),(20.97,415),(21.46,395),(21.71,370),(21.96,415),
           (22.21,460),(22.46,370)]

# ---------------- Panel 4: 2026年阔叶价格变动节奏（元/吨）
P4_DATES = ["2026-01-05", "2026-01-06", "2026-01-07", "2026-01-08", "2026-01-13", "2026-01-15", "2026-01-16",
            "2026-01-19", "2026-01-26", "2026-01-27", "2026-02-05", "2026-02-06", "2026-02-13", "2026-02-24",
            "2026-03-15", "2026-03-16", "2026-03-20", "2026-03-23", "2026-05-18", "2026-05-19", "2026-05-21",
            "2026-05-24", "2026-06-02", "2026-06-03", "2026-06-07", "2026-06-08", "2026-06-16", "2026-06-17",
            "2026-06-22", "2026-06-23", "2026-06-29", "2026-06-30", "2026-07-12", "2026-07-13", "2026-07-22",
            "2026-07-23", "2026-08-05", "2026-08-06", "2026-08-13", "2026-08-16", "2026-08-17", "2026-08-18",
            "2026-08-19"]
P4_PRICE = [4700, 4720, 4720, 4750, 4750, 4700, 4700, 4650, 4650, 4600, 4600, 4580, 4580, 4600,
            4600, 4550, 4550, 4600, 4600, 4580, 4580, 4550, 4550, 4530, 4530, 4500, 4500, 4480,
            4480, 4450, 4450, 4430, 4430, 4400, 4400, 4380, 4380, 4350, 4350, 4370, 4370, 4420, 4450]
P4_TICK_DATES = ["2026-01-05", "2026-02-05", "2026-03-05", "2026-04-05", "2026-05-05", "2026-06-05",
                 "2026-07-05", "2026-08-05"]
P4_TICK_LABELS = ["2026/1/5", "2026/2/5", "2026/3/5", "2026/4/5", "2026/5/5", "2026/6/5", "2026/7/5", "2026/8/5"]

TITLES = ["针叶进口利润季节性（银星即期）", "阔叶进口利润季节性（即期）",
          "国内银星-鹦鹉现货价差（元/吨）", "2026年阔叶价格变动节奏（元/吨）"]

P1 = [P1_2019, P1_2020, P1_2021, P1_2022, P1_2023, P1_2024, P1_2025, P1_2026]
P2 = [P2_2019, P2_2020, P2_2021, P2_2022, P2_2023, P2_2024, P2_2025, P2_2026]
P3 = [P3_2019, P3_2020, P3_2021, P3_2022, P3_2023, P3_2024, P3_2025, P3_2026]

fig = go.Figure()


def add_panel(series, xa, ya):
    for name, color, pts in zip(YEARS, COLORS, series):
        fig.add_trace(go.Scatter(
            x=[p[0] for p in pts], y=[p[1] for p in pts], mode="lines", name=name,
            line=dict(color=color, width=2.7), showlegend=False, xaxis=xa, yaxis=ya,
            hovertemplate=name + ": %{y}<extra></extra>"))


add_panel(P1, "x", "y")
add_panel(P2, "x2", "y2")
add_panel(P3, "x3", "y3")
fig.add_trace(go.Scatter(x=P4_DATES, y=P4_PRICE, mode="lines", name="2026年阔叶价格",
                         line=dict(color="#5B9BD5", width=3), showlegend=False, xaxis="x4", yaxis="y4"))


# helpers: window pixel -> paper fraction (accounts for the page offset)
def px_x(p):
    return min(max((p - OFF) / W, 0), 1)


def px_y(p):
    return min(max(1 - (p - OFF) / H, 0), 1)


def cat_xaxis(left, right):
    return dict(domain=[px_x(left), px_x(right)], range=[-0.1, 35.2], tickmode="array",
                tickvals=list(range(len(X_TICK_LABELS))), ticktext=X_TICK_LABELS, tickangle=-90,
                showgrid=False, zeroline=False, showline=False, ticks="", automargin=False,
                tickfont=dict(size=10, color=TXT, family=FONT), ticklabelstandoff=3, fixedrange=True)


def val_yaxis(top, bottom, lo, hi, step, xa, standoff):
    return dict(domain=[px_y(bottom), px_y(top)], range=[lo, hi], dtick=step, tick0=lo,
                showgrid=False, zeroline=True, zerolinecolor="#D9D9D9", zerolinewidth=1,
                showline=False, ticks="", anchor=xa, automargin=False,
                tickfont=dict(size=9.5, color=TXT, family=FONT), ticklabelstandoff=standoff)


layout = dict(
    template="none",
    width=W, height=H, autosize=False, margin=dict(l=0, r=0, t=0, b=0, pad=0, autoexpand=False),
    paper_bgcolor="white", plot_bgcolor="white", font=dict(family=FONT, color=TXT),
    showlegend=False,
    xaxis=dict(cat_xaxis(41.7, 510.7), anchor="y"),
    yaxis=val_yaxis(47, 263, -1200, 1200, 400, "x", 4),
    xaxis2=dict(cat_xaxis(581.7, 1050.7), anchor="y2"),
    yaxis2=val_yaxis(47, 263, -1500, 1500, 500, "x2", 6),
    xaxis3=dict(cat_xaxis(37.0, 511.0), anchor="y3"),
    yaxis3=val_yaxis(412, 637, -500, 2500, 500, "x3", 4),
    xaxis4=dict(domain=[px_x(580), px_x(1050)], type="date",
                range=["2026-01-04 12:00", "2026-08-20"], tickmode="array",
                tickvals=P4_TICK_DATES, ticktext=P4_TICK_LABELS, showgrid=False, zeroline=False,
                showline=True, linecolor="#D9D9D9", linewidth=1, ticks="outside", ticklen=3,
                tickcolor="#D9D9D9", anchor="y4", tickangle=0, automargin=False,
                ticklabelstandoff=-3,
                tickfont=dict(size=10, color=TXT, family=FONT)),
    yaxis4=dict(domain=[px_y(702), px_y(414)], range=[4300, 4800], dtick=50, tick0=4300,
                showgrid=True, gridcolor="#D9D9D9", gridwidth=1, zeroline=False, showline=False,
                ticks="", anchor="x4", automargin=False, tickfont=dict(size=9.5, color=TXT, family=FONT),
                ticklabelstandoff=19),
)
fig.update_layout(**layout)

# titles
title_pos = [(257, 21), (797, 21), (258, 387), (797, 387)]
for text, (cx, cy) in zip(TITLES, title_pos):
    fig.add_annotation(text=text, x=px_x(cx), y=px_y(cy), xref="paper", yref="paper",
                       showarrow=False, xanchor="center", yanchor="middle",
                       font=dict(size=17.5, color=TXT, family=FONT))

# legends (one horizontal row under each seasonal chart)
legend_pos = [(30, 338), (570, 338), (30, 711)]
STEP = 58.8
shapes = []
for bx, by in legend_pos:
    for i, (name, color) in enumerate(zip(YEARS, COLORS)):
        x0 = bx + i * STEP
        shapes.append(dict(type="line", xref="paper", yref="paper", x0=px_x(x0), x1=px_x(x0 + 22),
                           y0=px_y(by), y1=px_y(by), line=dict(color=color, width=2.7)))
        fig.add_annotation(text=name, x=px_x(x0 + 23), y=px_y(by), xref="paper", yref="paper",
                           showarrow=False, xanchor="left", yanchor="middle",
                           font=dict(size=10.5, color=TXT, family=FONT))

# thick separator between the two rows
shapes.append(dict(type="rect", xref="paper", yref="paper", x0=0, x1=1, y0=px_y(362), y1=px_y(357),
                   fillcolor="black", line=dict(width=0)))
fig.update_layout(shapes=shapes)

fig.write_html("out.html")
